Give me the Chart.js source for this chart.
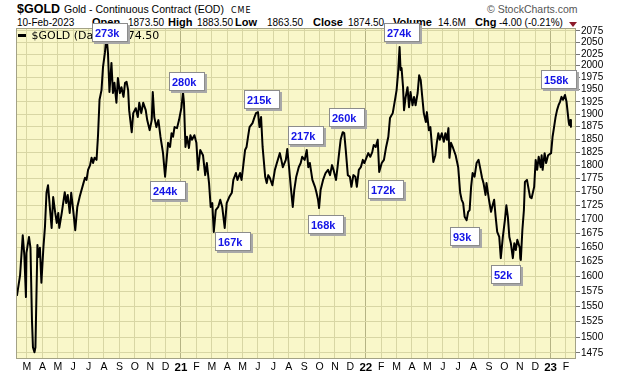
<!DOCTYPE html>
<html>
<head>
<meta charset="utf-8">
<script src="https://cdn.jsdelivr.net/npm/chart.js@4.4.1/dist/chart.umd.min.js"></script>
<style>
    html, body {margin: 0; padding: 0; background: #fff;}
    #wrap {position: relative; width: 620px; height: 376px; overflow: hidden;}
    #c {position: absolute; left: 0; top: 0; z-index: 1;}
    .t {position: absolute; white-space: nowrap; font-family: "Liberation Sans", Arial, sans-serif; line-height: 1; color: #000; z-index: 0;}
    .b {font-weight: bold; font-size: 11px; top: 17.4px;}
    .v {font-size: 10px; top: 18.2px;}
</style>
</head>
<body>
<div id="wrap">
    <span class="t" style="left:17px;top:2.7px;font-size:12.5px;font-weight:bold">$GOLD</span>
    <span class="t" style="left:64px;top:4.4px;font-size:10.5px">Gold - Continuous Contract (EOD)</span>
    <span class="t" style="left:231px;top:6.5px;font-size:8px;letter-spacing:1px;font-family:'DejaVu Sans'">CME</span>
    <span class="t" style="left:487px;top:4.4px;font-size:10.5px;color:#555">&copy; StockCharts.com</span>
    <span class="t v" style="left:17px">10-Feb-2023</span>
    <span class="t b" style="left:92px">Open</span><span class="t v" style="left:128px">1873.50</span>
    <span class="t b" style="left:168px">High</span><span class="t v" style="left:197px">1883.50</span>
    <span class="t b" style="left:235px">Low</span><span class="t v" style="left:267px">1863.50</span>
    <span class="t b" style="left:313px">Close</span><span class="t v" style="left:348px">1874.50</span>
    <span class="t b" style="left:393px">Volume</span><span class="t v" style="left:438px">14.6M</span>
    <span class="t b" style="left:475px">Chg</span><span class="t v" style="left:499px">-4.00 (-0.21%)</span>
    <span style="position:absolute;left:569px;top:21.5px;width:0;height:0;border-left:4px solid transparent;border-right:4px solid transparent;border-top:5px solid #8b1a2a"></span>
    <canvas id="c" width="620" height="376"></canvas>
</div>
<script>
// $GOLD daily closes (Feb 2020 - Feb 2023)
const dates = [
    '2020-02-11','2020-02-17','2020-02-22','2020-02-25','2020-02-28','2020-02-29','2020-03-05','2020-03-08','2020-03-11','2020-03-13',
    '2020-03-16','2020-03-18','2020-03-22','2020-03-24','2020-03-27','2020-03-30','2020-04-03','2020-04-06','2020-04-09','2020-04-12',
    '2020-04-16','2020-04-19','2020-04-22','2020-04-26','2020-04-29','2020-05-02','2020-05-04','2020-05-09','2020-05-15','2020-05-18',
    '2020-05-21','2020-05-25','2020-05-28','2020-06-01','2020-06-05','2020-06-09','2020-06-14','2020-06-21','2020-06-24','2020-06-27',
    '2020-06-30','2020-07-04','2020-07-07','2020-07-10','2020-07-13','2020-07-17','2020-07-20','2020-07-23','2020-07-27','2020-07-30',
    '2020-08-03','2020-08-06','2020-08-09','2020-08-12','2020-08-16','2020-08-19','2020-08-22','2020-08-26','2020-08-29','2020-09-02',
    '2020-09-05','2020-09-09','2020-09-12','2020-09-15','2020-09-18','2020-09-20','2020-09-25','2020-09-28','2020-10-03','2020-10-07',
    '2020-10-10','2020-10-14','2020-10-18','2020-10-23','2020-10-26','2020-10-31','2020-11-04','2020-11-06','2020-11-09','2020-11-13',
    '2020-11-17','2020-11-21','2020-11-26','2020-11-30','2020-12-03','2020-12-06','2020-12-10','2020-12-13','2020-12-16','2020-12-19',
    '2020-12-24','2020-12-28','2021-01-02','2021-01-05','2021-01-07','2021-01-10','2021-01-13','2021-01-17','2021-01-20','2021-01-23',
    '2021-01-28','2021-02-01','2021-02-04','2021-02-08','2021-02-13','2021-02-17','2021-02-20','2021-02-24','2021-02-27','2021-03-02',
    '2021-03-05','2021-03-09','2021-03-14','2021-03-18','2021-03-22','2021-03-27','2021-03-31','2021-04-05','2021-04-10','2021-04-13',
    '2021-04-18','2021-04-21','2021-04-26','2021-04-29','2021-05-02','2021-05-06','2021-05-09','2021-05-12','2021-05-15','2021-05-21',
    '2021-05-25','2021-05-28','2021-06-01','2021-06-04','2021-06-07','2021-06-10','2021-06-15','2021-06-18','2021-06-21','2021-06-24',
    '2021-06-29','2021-07-04','2021-07-08','2021-07-14','2021-07-17','2021-07-20','2021-07-26','2021-07-29','2021-08-02','2021-08-05',
    '2021-08-09','2021-08-12','2021-08-16','2021-08-21','2021-08-25','2021-08-28','2021-09-02','2021-09-06','2021-09-09','2021-09-12',
    '2021-09-17','2021-09-22','2021-09-25','2021-09-28','2021-09-30','2021-10-03','2021-10-08','2021-10-13','2021-10-18','2021-10-22',
    '2021-10-26','2021-10-29','2021-11-03','2021-11-06','2021-11-09','2021-11-12','2021-11-16','2021-11-19','2021-11-22','2021-11-26',
    '2021-11-30','2021-12-03','2021-12-07','2021-12-11','2021-12-14','2021-12-18','2021-12-22','2021-12-26','2021-12-29','2022-01-03',
    '2022-01-06','2022-01-10','2022-01-14','2022-01-17','2022-01-21','2022-01-25','2022-01-28','2022-02-02','2022-02-06','2022-02-10',
    '2022-02-14','2022-02-17','2022-02-22','2022-02-27','2022-03-01','2022-03-04','2022-03-07','2022-03-09','2022-03-11','2022-03-14',
    '2022-03-16','2022-03-19','2022-03-23','2022-03-26','2022-03-29','2022-04-02','2022-04-05','2022-04-08','2022-04-12','2022-04-15',
    '2022-04-18','2022-04-21','2022-04-24','2022-04-28','2022-04-30','2022-05-04','2022-05-07','2022-05-10','2022-05-13','2022-05-17',
    '2022-05-20','2022-05-23','2022-05-26','2022-05-30','2022-06-03','2022-06-06','2022-06-09','2022-06-12','2022-06-14','2022-06-17',
    '2022-06-21','2022-06-26','2022-07-01','2022-07-05','2022-07-08','2022-07-11','2022-07-14','2022-07-18','2022-07-21','2022-07-24',
    '2022-07-27','2022-07-30','2022-08-03','2022-08-07','2022-08-11','2022-08-15','2022-08-18','2022-08-21','2022-08-25','2022-08-27',
    '2022-09-01','2022-09-05','2022-09-08','2022-09-11','2022-09-14','2022-09-17','2022-09-21','2022-09-24','2022-09-28','2022-10-02',
    '2022-10-05','2022-10-08','2022-10-11','2022-10-14','2022-10-18','2022-10-21','2022-10-24','2022-10-27','2022-11-01','2022-11-02',
    '2022-11-03','2022-11-06','2022-11-09','2022-11-11','2022-11-15','2022-11-21','2022-11-24','2022-11-29','2022-12-02','2022-12-05',
    '2022-12-08','2022-12-12','2022-12-14','2022-12-16','2022-12-20','2022-12-23','2022-12-27','2023-01-02','2023-01-05','2023-01-08',
    '2023-01-11','2023-01-14','2023-01-17','2023-01-20','2023-01-23','2023-01-26','2023-01-30','2023-02-02','2023-02-06','2023-02-07',
    '2023-02-09','2023-02-10'
];
const prices = [
    1567, 1602, 1671, 1636, 1565, 1640, 1668, 1649, 1527, 1484,
    1476, 1484, 1654, 1633, 1649, 1589, 1650, 1686, 1748, 1762,
    1716, 1684, 1740, 1711, 1693, 1711, 1684, 1711, 1749, 1729,
    1744, 1711, 1748, 1716, 1680, 1722, 1742, 1766, 1776, 1772,
    1791, 1800, 1814, 1804, 1814, 1810, 1858, 1929, 1949, 1997,
    2029, 2065, 2027, 1945, 2006, 1943, 1964, 1923, 1974, 1943,
    1955, 1935, 1964, 1966, 1949, 1908, 1864, 1902, 1912, 1894,
    1923, 1902, 1923, 1908, 1888, 1868, 1888, 1945, 1894, 1874,
    1888, 1855, 1823, 1778, 1810, 1843, 1835, 1862, 1855, 1874,
    1872, 1888, 1914, 1945, 1923, 1835, 1855, 1833, 1858, 1849,
    1858, 1843, 1791, 1829, 1819, 1781, 1804, 1766, 1722, 1729,
    1677, 1716, 1722, 1735, 1722, 1684, 1729, 1740, 1748, 1772,
    1785, 1772, 1785, 1772, 1796, 1829, 1835, 1855, 1874, 1882,
    1894, 1902, 1904, 1874, 1894, 1835, 1778, 1766, 1781, 1776,
    1762, 1791, 1804, 1823, 1810, 1796, 1810, 1831, 1791, 1759,
    1722, 1753, 1778, 1796, 1804, 1816, 1810, 1829, 1796, 1804,
    1772, 1759, 1748, 1735, 1720, 1753, 1772, 1785, 1791, 1781,
    1800, 1791, 1772, 1796, 1823, 1849, 1864, 1862, 1829, 1781,
    1778, 1759, 1781, 1778, 1759, 1791, 1796, 1810, 1804, 1816,
    1823, 1816, 1825, 1839, 1835, 1849, 1787, 1804, 1810, 1835,
    1855, 1892, 1902, 1935, 1949, 1985, 2040, 1991, 1995, 1955,
    1908, 1933, 1955, 1914, 1945, 1918, 1935, 1918, 1943, 1980,
    1970, 1935, 1902, 1884, 1904, 1868, 1874, 1839, 1806, 1819,
    1843, 1862, 1849, 1862, 1845, 1862, 1849, 1872, 1814, 1843,
    1833, 1819, 1796, 1748, 1735, 1729, 1704, 1698, 1713, 1716,
    1759, 1785, 1778, 1804, 1810, 1791, 1776, 1766, 1744, 1766,
    1735, 1713, 1725, 1735, 1704, 1677, 1668, 1631, 1668, 1698,
    1725, 1704, 1668, 1657, 1631, 1657, 1645, 1663, 1649, 1631,
    1628, 1680, 1716, 1768, 1772, 1740, 1738, 1759, 1810, 1791,
    1816, 1796, 1819, 1791, 1823, 1804, 1819, 1823, 1855, 1874,
    1894, 1908, 1918, 1925, 1935, 1929, 1939, 1925, 1884, 1878,
    1888, 1874.5
];
const priceTicks = [1475, 1500, 1525, 1550, 1575, 1600, 1625, 1650, 1675, 1700, 1725, 1750, 1775,
    1800, 1825, 1850, 1875, 1900, 1925, 1950, 1975, 2000, 2025, 2050, 2075];
const monthLetters = ['J', 'F', 'M', 'A', 'M', 'J', 'J', 'A', 'S', 'O', 'N', 'D'];

// volume call-outs: text, where the box sits, box edge price, above/below the line
const noteText = ['273k', '244k', '280k', '167k', '215k', '217k', '168k', '260k', '172k', '274k', '93k', '52k', '158k'];
const noteDates = ['2020-08-14', '2020-12-06', '2021-01-13', '2021-04-12', '2021-06-09', '2021-09-04', '2021-10-13',
    '2021-11-24', '2022-02-10', '2022-03-12', '2022-07-14', '2022-10-05', '2023-01-18'];
const notePrices = [2052, 1770, 1947, 1676, 1911, 1839, 1707, 1874, 1772, 2051, 1686, 1619, 1951];
const noteSide = ['up', 'down', 'up', 'down', 'up', 'up', 'down', 'up', 'down', 'up', 'down', 'down', 'up'];

const X_MIN = 1.286, X_MAX = 37.65, Y_MIN = 1465.6, Y_MAX = 2081.6;
const FONT = '"Liberation Sans", Arial, sans-serif';
const BG = '#f9f7c9', GRID = '#d8d6a4', YEAR_GRID = '#b5b384';

// months since Jan 2020, fractional within the month
function monthPos(s) {
    const [y, m, d] = s.split('-').map(Number);
    const dim = new Date(y, m, 0).getDate();
    return (y - 2020) * 12 + (m - 1) + (d - 1) / dim;
}

const pts = dates.map((d, i) => ({x: monthPos(d), y: prices[i]}));
const monthTicks = [];
for (let k = Math.ceil(X_MIN); k <= Math.floor(X_MAX); k++) monthTicks.push(k);

const frame = {
    id: 'frame',
    beforeDraw(chart) {
        const a = chart.chartArea, c = chart.ctx;
        c.save();
        c.fillStyle = BG;
        c.fillRect(a.left, a.top, a.right - a.left, a.bottom - a.top);
        c.restore();
    },
    afterDraw(chart) {
        const a = chart.chartArea, c = chart.ctx;
        const xs = chart.scales.x, ys = chart.scales.y;
        c.save();
        c.strokeStyle = '#a3a286';
        c.lineWidth = 1;
        c.strokeRect(a.left + 0.5, a.top + 0.5, a.right - a.left - 1, a.bottom - a.top - 1);

        // legend
        c.fillStyle = '#000';
        c.fillRect(a.left + 2, a.top + 6, 8, 3);
        c.font = '11px "DejaVu Sans"';
        c.textBaseline = 'alphabetic';
        c.fillText('$GOLD (Daily) 1874.50', a.left + 15.5, a.top + 11.3);

        // volume boxes
        c.font = 'bold 11px ' + FONT;
        noteText.forEach((t, i) => {
            const cx = xs.getPixelForValue(monthPos(noteDates[i]));
            const py = ys.getPixelForValue(notePrices[i]);
            const w = Math.round(c.measureText(t).width + 12), h = 19;
            const left = Math.round(cx - w / 2);
            const top = Math.round(noteSide[i] === 'up' ? py - h : py);
            c.fillStyle = '#a8a8a8';
            c.fillRect(left + 2, top + 2, w, h);
            c.fillStyle = '#fff';
            c.fillRect(left, top, w, h);
            c.strokeStyle = '#8c8c8c';
            c.strokeRect(left + 0.5, top + 0.5, w - 1, h - 1);
            c.fillStyle = '#1414e6';
            c.fillText(t, left + 3, top + 13.5);
        });
        c.restore();
    }
};

new Chart(document.getElementById('c'), {
    type: 'line',
    data: {
        datasets: [{
            data: pts,
            borderColor: '#000',
            borderWidth: 2,
            borderJoinStyle: 'round',
            pointRadius: 0,
            tension: 0
        }]
    },
    options: {
        responsive: false,
        devicePixelRatio: 1,
        animation: false,
        layout: {padding: {left: 16, top: 28, right: 0, bottom: 0}},
        plugins: {legend: {display: false}, tooltip: {enabled: false}},
        scales: {
            x: {
                type: 'linear', min: X_MIN, max: X_MAX,
                afterBuildTicks: s => { s.ticks = monthTicks.map(v => ({value: v})); },
                afterFit: s => { s.height = 17; },
                ticks: {
                    autoSkip: false, maxRotation: 0, padding: 2, color: '#000',
                    callback: v => v % 12 === 0 ? String(20 + v / 12) : monthLetters[v % 12],
                    font: ctx => ({family: FONT, size: ctx.tick && ctx.tick.value % 12 === 0 ? 11.5 : 10.5,
                        weight: ctx.tick && ctx.tick.value % 12 === 0 ? 'bold' : 'normal'})
                },
                grid: {color: ctx => ctx.tick && ctx.tick.value % 12 === 0 ? YEAR_GRID : GRID, drawTicks: false},
                border: {display: false}
            },
            y: {
                type: 'logarithmic', position: 'right', min: Y_MIN, max: Y_MAX,
                afterBuildTicks: s => { s.ticks = priceTicks.map(v => ({value: v})); },
                afterFit: s => { s.width = 44; },
                ticks: {autoSkip: false, padding: 1, color: '#000', font: {family: FONT, size: 10}, callback: v => String(v)},
                grid: {color: GRID, tickColor: '#777', tickLength: 4},
                border: {display: false}
            }
        }
    },
    plugins: [frame]
});
</script>
</body>
</html>
